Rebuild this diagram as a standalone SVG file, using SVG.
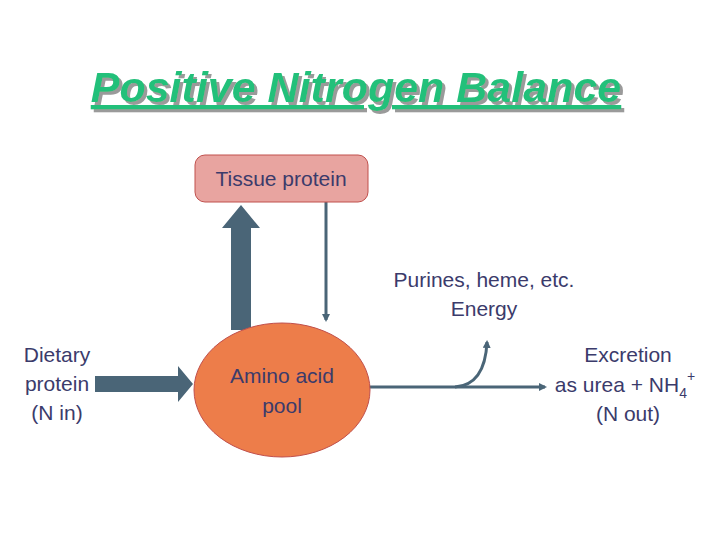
<svg xmlns="http://www.w3.org/2000/svg" width="720" height="540" viewBox="0 0 720 540">
<style>
.t{font-family:"Liberation Sans",Arial,sans-serif;fill:#3b3b6b;font-size:21px;text-anchor:middle}
.ttl{font-family:"Liberation Sans",Arial,sans-serif;font-size:43px;font-weight:bold;font-style:italic;text-anchor:middle;text-decoration:underline}
.ln{stroke:#4a6577;fill:none}
</style>
<defs>
<marker id="ah" markerWidth="8" markerHeight="8" refX="6" refY="4" orient="auto" markerUnits="userSpaceOnUse"><path d="M0,0 L8,4 L0,8 Z" fill="#4a6577"/></marker>
<filter id="sh" x="-5%" y="-20%" width="110%" height="140%"><feDropShadow dx="3" dy="3" stdDeviation="0" flood-color="#9a9a9a"/></filter>
</defs>
<rect width="720" height="540" fill="#fff"/>
<text class="ttl" x="356" y="102" fill="#22c07a" filter="url(#sh)">Positive Nitrogen Balance</text>
<g id="connectors">
<path d="M231,330 L231,228 L222,228 L241,205 L260,228 L251,228 L251,330 Z" fill="#4a6577"/>
<path d="M95,376 L178,376 L178,366 L193,384 L178,402 L178,392 L95,392 Z" fill="#4a6577"/>
<line class="ln" x1="326" y1="202" x2="326" y2="320" stroke-width="3" marker-end="url(#ah)"/>
<line class="ln" x1="368" y1="387" x2="545" y2="387" stroke-width="3" marker-end="url(#ah)"/>
<path class="ln" d="M455,387 Q485,385 487,342" stroke-width="3" marker-end="url(#ah)"/>
</g>
<g id="tissue">
<rect x="195" y="155" width="173" height="47" rx="10" fill="#e8a4a0" stroke="#c0504d" stroke-width="1"/>
<text class="t" x="281" y="186">Tissue protein</text>
</g>
<g id="pool">
<ellipse cx="282" cy="390" rx="88" ry="67" fill="#ed7d4a" stroke="#c0504d" stroke-width="1"/>
<text class="t" x="282" y="383">Amino acid</text>
<text class="t" x="282" y="413">pool</text>
</g>
<g id="dietary">
<text class="t" x="57" y="362">Dietary</text>
<text class="t" x="57" y="391">protein</text>
<text class="t" x="57" y="420">(N in)</text>
</g>
<g id="purines">
<text class="t" x="484" y="287">Purines, heme, etc.</text>
<text class="t" x="484" y="316">Energy</text>
</g>
<g id="excretion">
<text class="t" x="628" y="362">Excretion</text>
<text class="t" x="625" y="392">as urea + NH<tspan font-size="14" dy="6">4</tspan><tspan font-size="14" dy="-17">+</tspan></text>
<text class="t" x="628" y="421">(N out)</text>
</g>
</svg>
